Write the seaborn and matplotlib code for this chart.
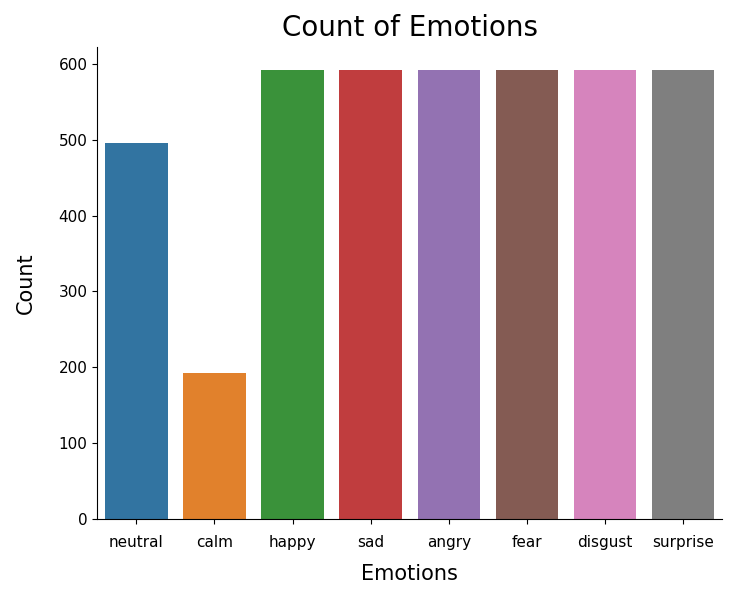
import seaborn as sns
import matplotlib.pyplot as plt
import pandas as pd

emotions = ['neutral', 'calm', 'happy', 'sad', 'angry', 'fear', 'disgust', 'surprise']
counts = [496, 192, 592, 592, 592, 592, 592, 592]

df = pd.DataFrame({'Emotions': emotions, 'Count': counts})

fig = plt.figure(figsize=(7.31, 5.93), dpi=100)
ax = fig.add_axes([0.133, 0.125, 0.855, 0.795])
sns.barplot(data=df, x='Emotions', y='Count', hue='Emotions',
            palette='tab10', legend=False, ax=ax)
sns.despine(ax=ax)
ax.set_title('Count of Emotions', fontsize=20, pad=8)
ax.set_xlabel('Emotions', fontsize=15, labelpad=10)
ax.set_ylabel('Count', fontsize=15, labelpad=16)
ax.tick_params(axis='x', labelsize=11, pad=8)
ax.tick_params(axis='y', labelsize=11)
fig.savefig('out.png', dpi=100)
